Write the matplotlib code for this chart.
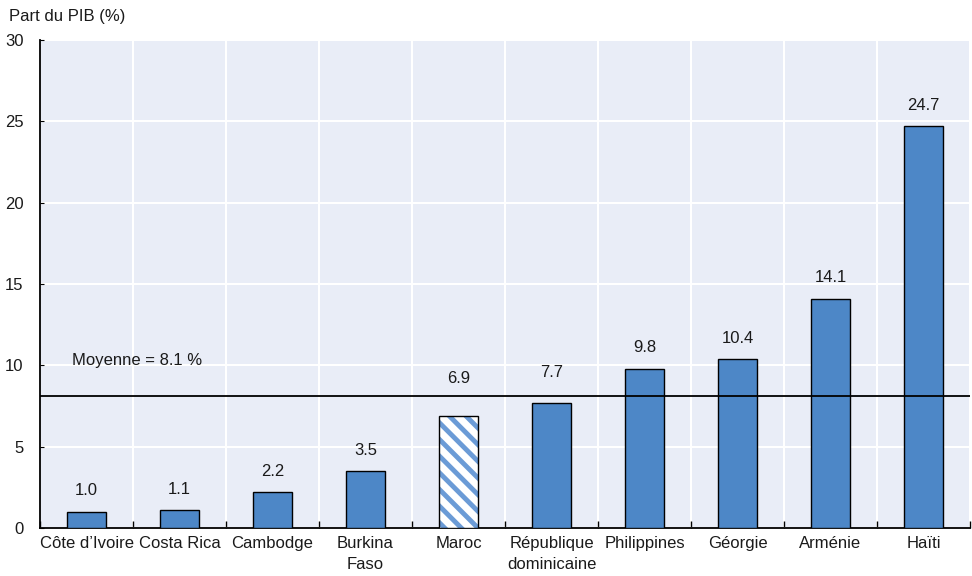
import matplotlib
matplotlib.use("Agg")
import matplotlib.pyplot as plt
import numpy as np

plt.rcParams['font.family'] = ['Liberation Sans', 'DejaVu Sans']
plt.rcParams['hatch.linewidth'] = 3.5

categories = ["Côte d’Ivoire", "Costa Rica", "Cambodge", "Burkina\nFaso", "Maroc",
              "République\ndominicaine", "Philippines", "Géorgie", "Arménie", "Haïti"]
values = [1.0, 1.1, 2.2, 3.5, 6.9, 7.7, 9.8, 10.4, 14.1, 24.7]
highlight = "Maroc"
mean_value = 8.1
yticks = [0, 5, 10, 15, 20, 25, 30]

blue = "#4D87C7"
hatch_blue = "#6B9BD6"
bg = "#E9EDF7"
ink = "#1a1a1a"
fs = 12

fig = plt.figure(figsize=(9.72, 5.76), dpi=100)
ax = fig.add_axes([40 / 972, 48 / 576, 930 / 972, 488 / 576])
ax.set_facecolor(bg)

x = np.arange(len(categories))
for xi, cat, v in zip(x, categories, values):
    if cat == highlight:
        ax.bar(xi, v, width=0.41, facecolor="white", edgecolor=hatch_blue, hatch="\\\\",
               linewidth=0, zorder=3)
        ax.bar(xi, v, width=0.41, facecolor="none", edgecolor="black", linewidth=1.0, zorder=4)
    else:
        ax.bar(xi, v, width=0.41, color=blue, edgecolor="black", linewidth=1.0, zorder=3)
    # value labels; those just under the mean line are lifted clear of it
    label_y = v + 1.0
    if mean_value - 1.5 < v < mean_value:
        label_y = max(v + 1.6, mean_value + 0.8)
    ax.text(xi, label_y, f"{v:.1f}", ha="center", va="baseline", fontsize=fs, color=ink)

ax.axhline(mean_value, color="black", linewidth=1.3, zorder=5)
ax.text(-0.155, 10.05, f"Moyenne = {mean_value} %", ha="left", va="baseline",
        fontsize=fs, color=ink)

ax.set_xlim(-0.5, len(categories) - 0.5)
ax.set_ylim(0, 30)
ax.set_yticks(yticks)
ax.set_yticklabels([str(t) for t in yticks], fontsize=fs, color=ink)
ax.tick_params(axis="y", length=3, direction="in", pad=12)
ax.set_xticks(x)
ax.set_xticklabels(categories, fontsize=fs, color=ink, linespacing=1.5)
ax.tick_params(axis="x", length=0, pad=6)
ax.set_xticks(np.arange(len(categories) + 1) - 0.5, minor=True)
ax.tick_params(axis="x", which="minor", length=5, direction="in", width=1)

ax.grid(axis="y", color="white", linewidth=1.5, zorder=0)
ax.grid(axis="x", which="minor", color="white", linewidth=1.5, zorder=0)
ax.grid(axis="x", which="major", visible=False)
ax.set_axisbelow(True)

for s in ["top", "right"]:
    ax.spines[s].set_visible(False)
for s in ["left", "bottom"]:
    ax.spines[s].set_color("black")
    ax.spines[s].set_linewidth(1.3)

fig.text(9 / 972, 1 - 21 / 576, "Part du PIB (%)", fontsize=fs, ha="left", va="baseline",
         color=ink)

fig.savefig("out.png", dpi=100, facecolor="white")
